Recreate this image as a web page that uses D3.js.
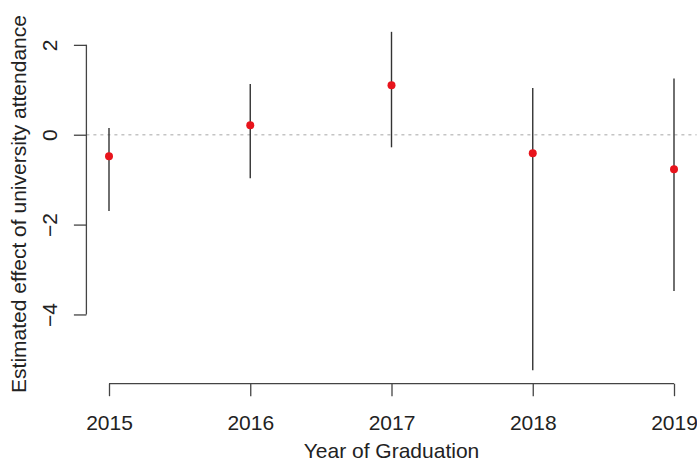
<!DOCTYPE html>
<html>
<head>
<meta charset="utf-8">
<script src="https://cdn.jsdelivr.net/npm/d3@7"></script>
<style>
  html, body { margin: 0; padding: 0; background: #fff; }
  svg { display: block; }
  text { font-family: "Liberation Sans", Arial, sans-serif; fill: #222; }
</style>
</head>
<body>
<svg id="chart" width="697" height="462"></svg>
<script>
// Estimated effect by graduation year, with confidence intervals
const years     = [2015, 2016, 2017, 2018, 2019];
const estimates = [-0.48, 0.21, 1.10, -0.41, -0.77];
const lower     = [-1.70, -0.97, -0.28, -5.24, -3.48];
const upper     = [0.15, 1.13, 2.29, 1.04, 1.25];
const yTicks    = [-4, -2, 0, 2];

const W = 697, H = 462;
const plot = { left: 86.4, right: 696.6, top: 18.3, bottom: 383.7 };
const FONT = 21;

const svg = d3.select("#chart");

// R-style 4% padding on both axes
const xPad = (d3.max(years) - d3.min(years)) * 0.04;
const x = d3.scaleLinear()
  .domain([d3.min(years) - xPad, d3.max(years) + xPad])
  .range([plot.left, plot.right]);

const yMin = d3.min(lower), yMax = d3.max(upper);
const yPad = (yMax - yMin) * 0.04;
const y = d3.scaleLinear()
  .domain([yMin - yPad, yMax + yPad])
  .range([plot.bottom, plot.top]);

// zero reference line
svg.append("line")
  .attr("x1", plot.left).attr("x2", plot.right)
  .attr("y1", y(0)).attr("y2", y(0))
  .attr("stroke", "#c4c4c4")
  .attr("stroke-width", 1.5)
  .attr("stroke-dasharray", "3,4");

// confidence intervals
svg.append("g").selectAll("line")
  .data(years)
  .join("line")
  .attr("x1", d => x(d)).attr("x2", d => x(d))
  .attr("y1", (d, i) => y(upper[i]))
  .attr("y2", (d, i) => y(lower[i]))
  .attr("stroke", "#333")
  .attr("stroke-width", 1.4);

// point estimates
svg.append("g").selectAll("circle")
  .data(years)
  .join("circle")
  .attr("cx", d => x(d))
  .attr("cy", (d, i) => y(estimates[i]))
  .attr("r", 4)
  .attr("fill", "#e8141c");

// x axis (from first to last tick only)
const xAxis = svg.append("g")
  .attr("transform", `translate(0,${plot.bottom})`)
  .call(d3.axisBottom(x).tickValues(years).tickFormat(d3.format("d"))
    .tickSize(12.5).tickPadding(8));
xAxis.select(".domain").remove();
xAxis.append("line")
  .attr("x1", x(d3.min(years))).attr("x2", x(d3.max(years)))
  .attr("stroke", "#444").attr("stroke-width", 1.3);
xAxis.selectAll(".tick line").attr("stroke", "#444").attr("stroke-width", 1.3);
xAxis.selectAll(".tick text")
  .attr("font-size", FONT)
  .attr("font-family", "Liberation Sans, Arial, sans-serif")
  .attr("fill", "#222")
  .attr("dy", null)
  .attr("y", 46.5);

// y axis (from lowest to highest tick only), labels parallel to axis
const yAxis = svg.append("g")
  .attr("transform", `translate(${plot.left},0)`)
  .call(d3.axisLeft(y).tickValues(yTicks).tickFormat(d => d < 0 ? "\u2212" + Math.abs(d) : d)
    .tickSize(12.5));
yAxis.select(".domain").remove();
yAxis.append("line")
  .attr("y1", y(d3.min(yTicks))).attr("y2", y(d3.max(yTicks)))
  .attr("stroke", "#444").attr("stroke-width", 1.3);
yAxis.selectAll(".tick line").attr("stroke", "#444").attr("stroke-width", 1.3);
yAxis.selectAll(".tick text")
  .attr("font-size", FONT)
  .attr("font-family", "Liberation Sans, Arial, sans-serif")
  .attr("fill", "#222")
  .attr("x", null).attr("dy", null)
  .attr("text-anchor", "middle")
  .attr("transform", "translate(-29.5,0) rotate(-90)");

// axis titles
svg.append("text")
  .attr("x", (plot.left + plot.right) / 2)
  .attr("y", 458)
  .attr("text-anchor", "middle")
  .attr("font-size", FONT)
  .text("Year of Graduation");

svg.append("text")
  .attr("transform", `translate(26,${(plot.top + plot.bottom) / 2 + 3}) rotate(-90)`)
  .attr("text-anchor", "middle")
  .attr("font-size", FONT)
  .text("Estimated effect of university attendance");
</script>
</body>
</html>
